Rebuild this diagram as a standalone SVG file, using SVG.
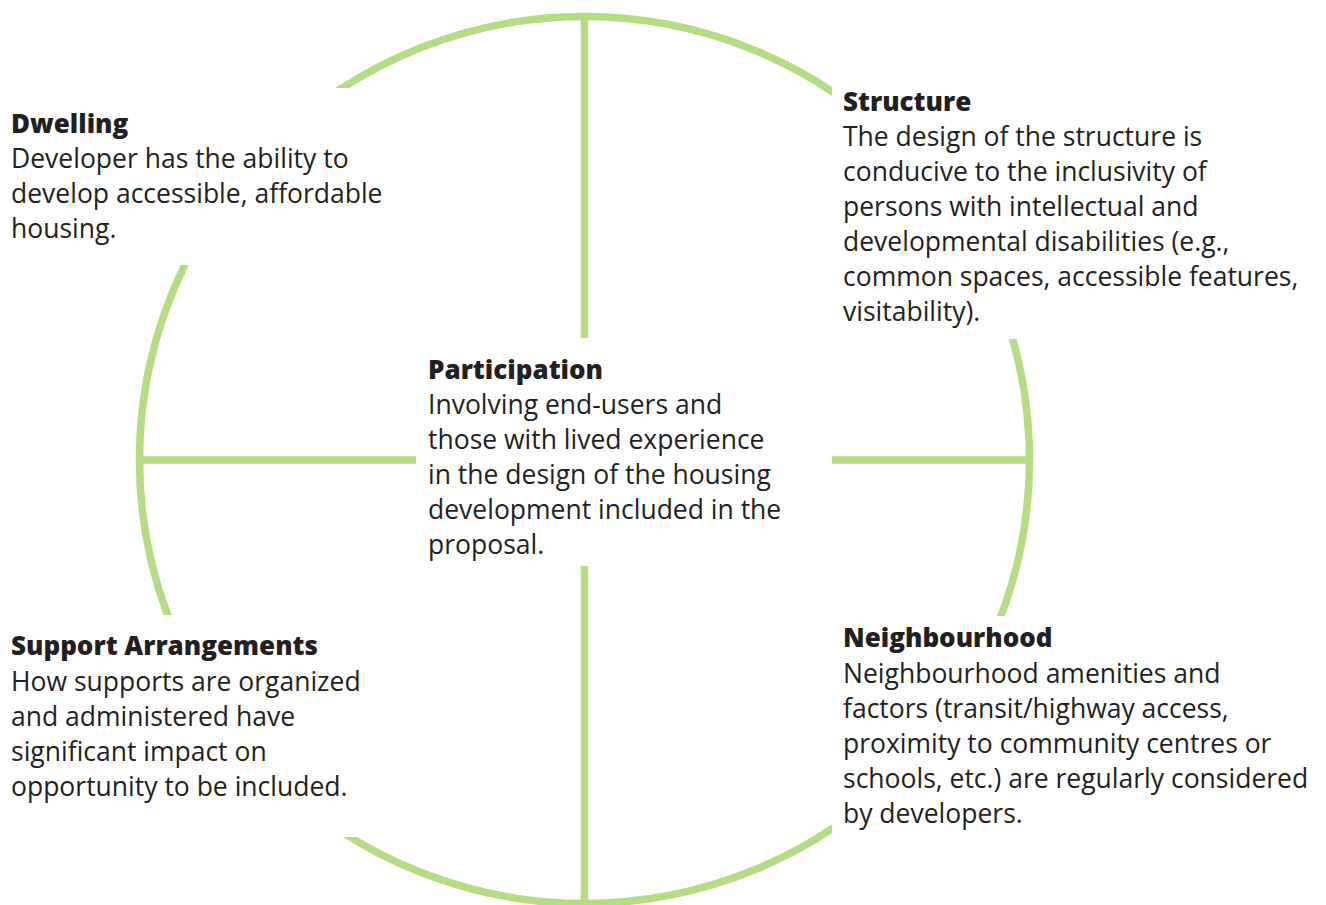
<svg xmlns="http://www.w3.org/2000/svg" width="1326" height="905" viewBox="0 0 1326 905">
<style>
.line{fill:none;stroke:#b3dc84;stroke-width:7.5}
.title{font-family:"Open Sans","Liberation Sans",sans-serif;font-weight:800;font-size:26px;fill:#231f20}
.body{font-family:"Open Sans","Liberation Sans",sans-serif;font-weight:400;font-size:26.5px;fill:#231f20}
</style>
<defs>
<clipPath id="gaps">
<path clip-rule="evenodd" d="M0 0H1326V905H0Z M0 88H400V265H0Z M832 80H1326V339H832Z M832 616H1326V860H832Z M0 615H400V837H0Z M416 338H832V566H416Z"/>
</clipPath>
</defs>
<g id="connectors" clip-path="url(#gaps)">
<ellipse class="line" cx="584.5" cy="460" rx="445" ry="443.5"/>
<line class="line" x1="584.5" y1="16" x2="584.5" y2="905"/>
<line class="line" x1="139.5" y1="460" x2="1029.5" y2="460"/>
</g>
<g id="dwelling">
<text class="title" x="11" y="133">Dwelling</text>
<text class="body" x="11" y="168">Developer has the ability to</text>
<text class="body" x="11" y="203">develop accessible, affordable</text>
<text class="body" x="11" y="238">housing.</text>
</g>
<g id="structure">
<text class="title" x="843" y="111">Structure</text>
<text class="body" x="843" y="146">The design of the structure is</text>
<text class="body" x="843" y="181">conducive to the inclusivity of</text>
<text class="body" x="843" y="216">persons with intellectual and</text>
<text class="body" x="843" y="251">developmental disabilities (e.g.,</text>
<text class="body" x="843" y="286">common spaces, accessible features,</text>
<text class="body" x="843" y="321">visitability).</text>
</g>
<g id="participation">
<text class="title" x="428" y="379">Participation</text>
<text class="body" x="428" y="414">Involving end-users and</text>
<text class="body" x="428" y="449">those with lived experience</text>
<text class="body" x="428" y="484">in the design of the housing</text>
<text class="body" x="428" y="519">development included in the</text>
<text class="body" x="428" y="554">proposal.</text>
</g>
<g id="support-arrangements">
<text class="title" x="11" y="655">Support Arrangements</text>
<text class="body" x="11" y="691">How supports are organized</text>
<text class="body" x="11" y="726">and administered have</text>
<text class="body" x="11" y="761">significant impact on</text>
<text class="body" x="11" y="796">opportunity to be included.</text>
</g>
<g id="neighbourhood">
<text class="title" x="843" y="647">Neighbourhood</text>
<text class="body" x="843" y="683">Neighbourhood amenities and</text>
<text class="body" x="843" y="718">factors (transit/highway access,</text>
<text class="body" x="843" y="753">proximity to community centres or</text>
<text class="body" x="843" y="788">schools, etc.) are regularly considered</text>
<text class="body" x="843" y="823">by developers.</text>
</g>
</svg>
